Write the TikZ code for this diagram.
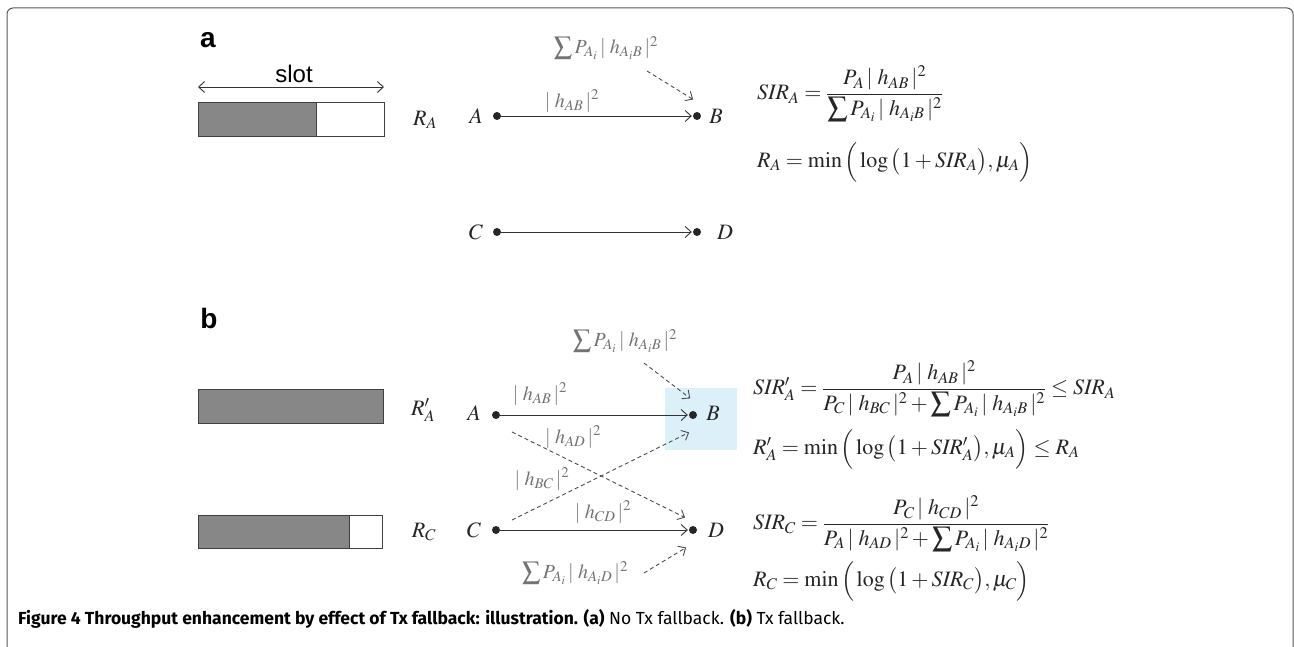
\documentclass[tikz,border=0pt]{standalone}
\usepackage{amsmath}
\usepackage{mathptmx}
\usepackage{fontspec}
\setmainfont{Liberation Serif}
\newfontfamily\capfont{Fira Sans}
\newfontfamily\hfont{Liberation Sans}
\usetikzlibrary{arrows.meta}
\definecolor{hilite}{RGB}{220,240,250}
\newcommand{\bsum}{\mathop{\vcenter{\hbox{\scalebox{1.3}{$\sum$}}}}\nolimits}
\newcommand{\habs}[1]{|\;h_{#1}\,|^2}
\begin{document}
\begin{tikzpicture}[x=1pt,y=-1pt,
  dot/.style={circle,fill=black!85,inner sep=0pt,minimum size=8pt},
  lbl/.style={inner sep=0pt,text=black!85,font=\fontsize{22}{24}\selectfont},
  chan/.style={inner sep=0pt,text=black!55,font=\fontsize{20}{22}\selectfont},
  eq/.style={anchor=west,inner sep=0pt,text=black!85,font=\fontsize{22}{26}\selectfont},
  link/.style={draw=black!80,line width=0.9pt,-{Straight Barb[length=6pt,width=11pt]},shorten >=1pt},
  intf/.style={link,draw=black!70,dash pattern=on 4pt off 3pt},
  barline/.style={draw=black!75,line width=1pt},
  barfill/.style={fill=black!47},
  panel/.style={inner sep=0pt,font=\hfont\bfseries\fontsize{28}{30}\selectfont}]
\useasboundingbox (0,0) rectangle (1294,647);
\fill[white] (0,0) rectangle (1294,647);
% frame
\draw[black!65,line width=1pt,rounded corners=6pt] (7,648) -- (7,8) -- (1293,8) -- (1293,648);

% ---------- panel a ----------
\node[panel] (pa) at (208,40) {a};
\node[inner sep=0pt,font=\hfont\fontsize{24}{26}\selectfont] (slot) at (294,74) {slot};
\coordinate (sl) at (198,87); \coordinate (sr) at (384,87);
\draw[black!80,line width=0.9pt,{Straight Barb[length=6pt,width=11pt]}-{Straight Barb[length=6pt,width=11pt]}] (sl) -- (sr);
\fill[barfill] (198,103) rectangle (316,137);
\draw[barline] (198,103) rectangle (384,137);
\draw[barline] (316,103) -- (316,137);
\node[lbl] (ra) at (425,120) {$R_A$};

\node[lbl] (A1) at (476,116) {$A$};
\node[dot] (dA1) at (497,116) {};
\node[dot] (dB1) at (697,116) {};
\node[lbl] (B1) at (716,116) {$B$};
\draw[link] (dA1) -- (dB1);
\node[chan] (hab1) at (572,101) {$\habs{AB}$};
\node[chan] (sum1) at (606,48) {$\bsum P_{A_i}\,\habs{A_iB}$};
\coordinate (i1s) at (647,71); \coordinate (i1e) at (694,100);
\draw[intf] (i1s) -- (i1e);

\node[lbl] (C1) at (476,232) {$C$};
\node[dot] (dC1) at (497,232) {};
\node[dot] (dD1) at (697,232) {};
\node[lbl] (D1) at (725,232) {$D$};
\draw[link] (dC1) -- (dD1);

\node[eq] (eqa1) at (757,94) {$\mathit{SIR}_A=\dfrac{P_A\,\habs{AB}}{\bsum P_{A_i}\,\habs{A_iB}}$};
\node[eq] (eqa2) at (757,162) {$R_A=\min\Big(\log\big(1+\mathit{SIR}_A\big),\mu_A\Big)$};

% ---------- panel b ----------
\node[panel] (pb) at (209,318) {b};
\fill[hilite] (665,388) rectangle (737,450);

\fill[barfill] (198,389) rectangle (383,423);
\draw[barline] (198,389) rectangle (383,423);
\node[lbl] (rap) at (423,410) {$R'_A$};

\fill[barfill] (198,515) rectangle (349,548);
\draw[barline] (198,515) rectangle (382,548);
\draw[barline] (349,515) -- (349,548);
\node[lbl] (rc) at (424,532) {$R_C$};

\node[lbl] (A2) at (474,413) {$A$};
\node[dot] (dA2) at (496,415) {};
\node[dot] (dB2) at (693,415) {};
\node[lbl] (B2) at (713,413) {$B$};
\draw[link] (dA2) -- (dB2);
\node[chan] (hab2) at (540,394) {$\habs{AB}$};
\node[chan] (sum2) at (625,341) {$\bsum P_{A_i}\,\habs{A_iB}$};
\coordinate (i2s) at (644,363); \coordinate (i2e) at (691,399);
\draw[intf] (i2s) -- (i2e);

\node[lbl] (C2) at (474,530) {$C$};
\node[dot] (dC2) at (496,530) {};
\node[dot] (dD2) at (693,530) {};
\node[lbl] (D2) at (716,530) {$D$};
\draw[link] (dC2) -- (dD2);
\node[chan] (hcd2) at (603,512) {$\habs{CD}$};

\node[chan] (had2) at (573,437) {$\habs{AD}$};
\coordinate (adS) at (512,432); \coordinate (adE) at (686,518);
\draw[intf] (adS) -- (adE);
\node[chan] (hbc2) at (542,479) {$\habs{BC}$};
\coordinate (cbS) at (512,520); \coordinate (cbE) at (690,432);
\draw[intf] (cbS) -- (cbE);

\node[chan] (sum3) at (575,573) {$\bsum P_{A_i}\,\habs{A_iD}$};
\coordinate (i3s) at (644,573); \coordinate (i3e) at (687,547);
\draw[intf] (i3s) -- (i3e);

\node[eq] (eqb1) at (753,389) {$\mathit{SIR}'_A=\dfrac{P_A\,\habs{AB}}{P_C\,\habs{BC}+\bsum P_{A_i}\,\habs{A_iB}}\le \mathit{SIR}_A$};
\node[eq] (eqb2) at (753,449) {$R'_A=\min\Big(\log\big(1+\mathit{SIR}'_A\big),\mu_A\Big)\le R_A$};
\node[eq] (eqb3) at (753,524) {$\mathit{SIR}_C=\dfrac{P_C\,\habs{CD}}{P_A\,\habs{AD}+\bsum P_{A_i}\,\habs{A_iD}}$};
\node[eq] (eqb4) at (753,581) {$R_C=\min\Big(\log\big(1+\mathit{SIR}_C\big),\mu_C\Big)$};

% caption
\node[anchor=west,inner sep=0pt,font=\capfont\fontsize{17.5}{19}\selectfont] (cap) at (18,619)
  {{\bfseries Figure 4 Throughput enhancement by effect of Tx fallback: illustration. (a)} No Tx fallback. {\bfseries (b)} Tx fallback.};
\end{tikzpicture}
\end{document}
